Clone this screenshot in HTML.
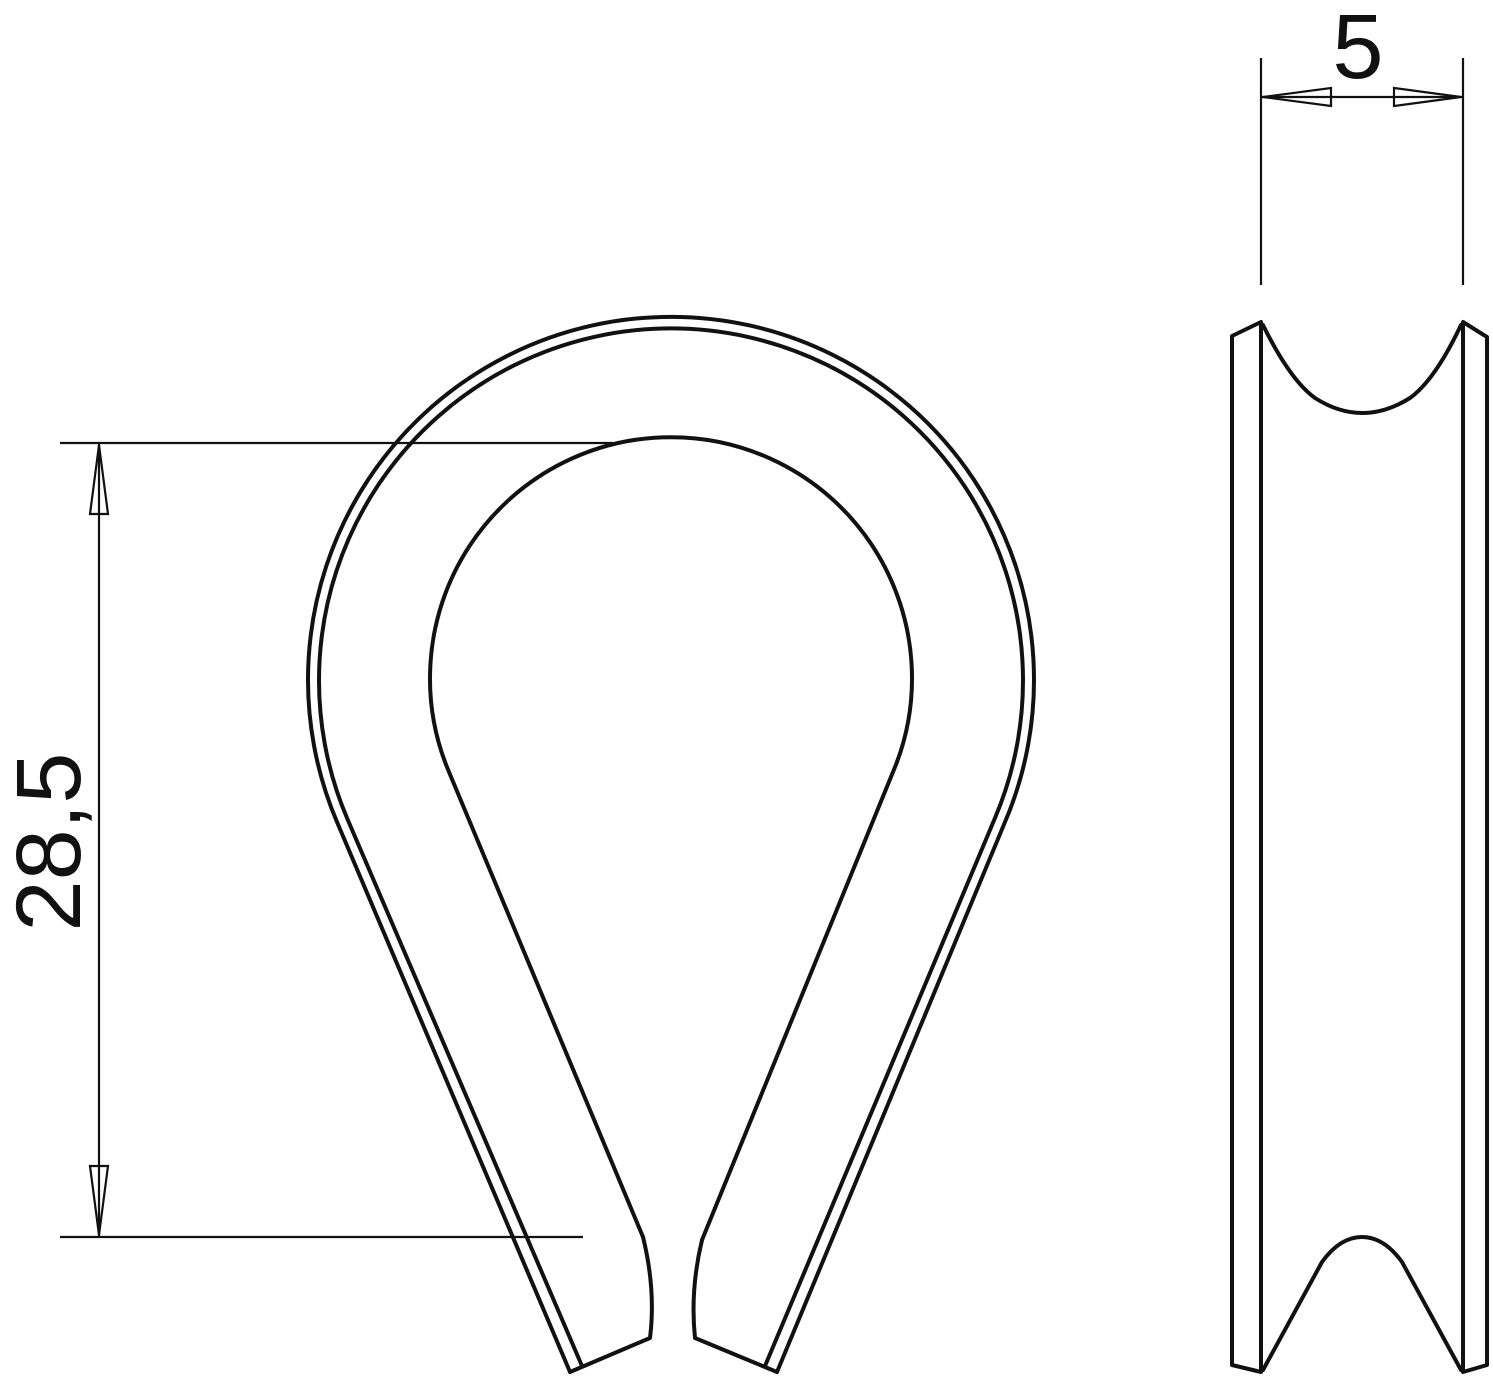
<!DOCTYPE html>
<html><head><meta charset="utf-8"><style>html,body{margin:0;padding:0;background:#fff}svg{display:block}</style></head>
<body>
<svg width="1493" height="1376" viewBox="0 0 1493 1376" xmlns="http://www.w3.org/2000/svg">
<g fill="none" stroke="#111" stroke-width="4" stroke-linejoin="round" stroke-linecap="round">
<!-- outer contour -->
<path d="M570 1372 L337 822 A363 363 0 1 1 1005 822 L777 1372"/>
<path d="M582 1366 L347 818 A352 352 0 1 1 995 818 L765 1366"/>
<!-- inner hole -->
<path d="M643 1237 L449 772 A241 241 0 1 1 893 772 L702 1240"/>
<path d="M643 1237 Q656 1290 650 1338 L570 1372"/>
<path d="M702 1240 Q690 1290 695 1338 L777 1372"/>
<!-- side view -->
<path d="M1232 1365 L1232 336 L1261 322 L1261 1372 Z"/>
<path d="M1487 1365 L1487 337 L1463 322 L1463 1372 Z"/>
<path d="M1263 325 Q1290 380 1315 398 Q1362 428 1410 398 Q1435 380 1461 325"/>
<path d="M1263 1370 L1322 1262 Q1340 1237 1362 1237 Q1384 1237 1402 1262 L1461 1370"/>
</g>
<g fill="none" stroke="#111" stroke-width="2.2">
<line x1="60" y1="443" x2="613" y2="443"/>
<line x1="60" y1="1237" x2="583" y2="1237"/>
<line x1="99" y1="443" x2="99" y2="1237"/>
<path d="M99 445 L90 514 L108 514 Z"/>
<path d="M99 1235 L90 1166 L108 1166 Z"/>
<line x1="1261" y1="58" x2="1261" y2="285"/>
<line x1="1463" y1="58" x2="1463" y2="285"/>
<line x1="1261" y1="97" x2="1463" y2="97"/>
<path d="M1263 97 L1331 88 L1331 106 Z"/>
<path d="M1461 97 L1394 88 L1394 106 Z"/>
</g>
<text x="1358" y="78" font-family="Liberation Sans, sans-serif" font-size="92" text-anchor="middle" fill="#111">5</text>
<text transform="translate(80 842) rotate(-90)" x="0" y="0" font-family="Liberation Sans, sans-serif" font-size="92" text-anchor="middle" fill="#111">28,5</text>
</svg>
</body></html>
